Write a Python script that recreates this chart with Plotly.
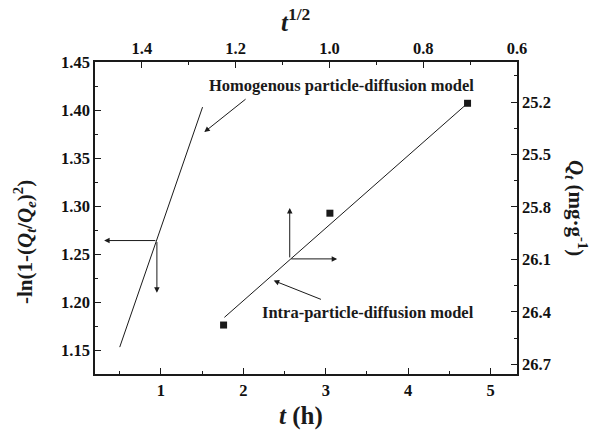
import plotly.graph_objects as go

# Data
intra_t = [1.76, 3.05, 4.72]
intra_y = [1.176, 1.2925, 1.407]
homo_fit_t = [0.50, 1.505]
homo_fit_y = [1.153, 1.403]
intra_fit_t = [1.77, 4.72]
intra_fit_y = [1.184, 1.407]

x_ticks = [1, 2, 3, 4, 5]
y_ticks = [1.15, 1.20, 1.25, 1.30, 1.35, 1.40, 1.45]
q_ticks = [25.2, 25.5, 25.8, 26.1, 26.4, 26.7]
sqrt_ticks = [1.4, 1.2, 1.0, 0.8, 0.6]

FONT = "Liberation Serif"
INK = "#1a1a1a"

fig = go.Figure()
fig.add_trace(go.Scatter(x=homo_fit_t, y=homo_fit_y, mode="lines",
                         line=dict(color=INK, width=1), showlegend=False))
fig.add_trace(go.Scatter(x=intra_fit_t, y=intra_fit_y, mode="lines",
                         line=dict(color=INK, width=1), showlegend=False))
fig.add_trace(go.Scatter(x=intra_t, y=intra_y, mode="markers",
                         marker=dict(symbol="square", size=7, color=INK),
                         showlegend=False))
# invisible traces to anchor secondary axes
fig.add_trace(go.Scatter(x=[None], y=[None], xaxis="x2", yaxis="y", showlegend=False, hoverinfo="skip"))
fig.add_trace(go.Scatter(x=[None], y=[None], xaxis="x", yaxis="y2", showlegend=False, hoverinfo="skip"))

tickfont = dict(family=FONT, size=16.5, color="#111111", weight="bold")
axis_common = dict(showline=True, linecolor=INK, linewidth=1.5, mirror=False,
                   ticks="inside", ticklen=6, tickwidth=1.2, tickcolor=INK,
                   showgrid=False, zeroline=False, tickfont=tickfont)

fig.update_layout(
    width=593, height=433,
    margin=dict(l=95, r=76, t=62, b=59),
    paper_bgcolor="white", plot_bgcolor="white",
    font=dict(family=FONT, color=INK),
    xaxis=dict(range=[0.2, 5.32], tickvals=x_ticks, ticktext=[f"<b>{v}</b>" for v in x_ticks],
               minor=dict(ticks="inside", ticklen=3.5, tickcolor=INK, dtick=0.5, tick0=0),
               **axis_common),
    yaxis=dict(range=[1.125, 1.45], tickvals=y_ticks, ticktext=[f"<b>{v:.2f}</b>" for v in y_ticks],
               minor=dict(ticks="inside", ticklen=3.5, tickcolor=INK, dtick=0.025, tick0=1.15),
               **axis_common),
    xaxis2=dict(range=[1.5, 0.6], overlaying="x", side="top", anchor="y",
                tickvals=sqrt_ticks, ticktext=[f"<b>{v:.1f}</b>" for v in sqrt_ticks],
                minor=dict(ticks="inside", ticklen=3.5, tickcolor=INK, dtick=0.1, tick0=0.6),
                **axis_common),
    yaxis2=dict(range=[26.756, 24.97], overlaying="y", side="right", anchor="x",
                tickvals=q_ticks, ticktext=[f"<b>{v:.1f}</b>" for v in q_ticks],
                minor=dict(ticks="inside", ticklen=3.5, tickcolor=INK, dtick=0.15, tick0=25.2),
                **axis_common),
)

def arrow(x, y, ax, ay):
    fig.add_annotation(x=x, y=y, ax=ax, ay=ay, xref="x", yref="y", axref="x", ayref="y",
                       text="", showarrow=True, arrowhead=2, arrowsize=1.1, arrowwidth=1,
                       arrowcolor=INK)

# homogeneous-model axis pointers
arrow(0.311, 1.264, 0.951, 1.264)
arrow(0.951, 1.2097, 0.951, 1.264)
# intra-particle axis pointers
arrow(2.5626, 1.2978, 2.5626, 1.2449)
arrow(3.138, 1.2449, 2.5626, 1.2449)
# label arrows
arrow(1.526, 1.377, 2.045, 1.4125)
arrow(2.368, 1.2223, 2.96, 1.2021)

lab = dict(family=FONT, size=16.5, color=INK, weight="bold")
fig.add_annotation(x=3.19, y=1.4255, xref="x", yref="y", text="Homogenous particle-diffusion model",
                   showarrow=False, font=lab, xanchor="center", yanchor="middle")
fig.add_annotation(x=3.513, y=1.1886, xref="x", yref="y", text="Intra-particle-diffusion model",
                   showarrow=False, font=lab, xanchor="center", yanchor="middle")

# axis titles
def px(xp):
    return (xp - 95) / (593 - 95 - 76)

def py(yp):
    return (433 - 59 - yp) / (433 - 62 - 59)

def title(x, y, text, size, angle=0):
    fig.add_annotation(x=px(x), y=py(y), xref="paper", yref="paper", textangle=angle,
                       text=text, showarrow=False, xanchor="center", yanchor="middle",
                       font=dict(family=FONT, size=size, color=INK, weight="bold"))

title(25, 242, "-ln(1-(<i>Q</i><sub><i>t</i></sub>/<i>Q</i><sub><i>e</i></sub>)<sup>2</sup>)", 21, -90)
title(577, 208, "<i>Q</i><sub><i>t</i></sub> (mg·g<sup>-1</sup>)", 21, 90)
title(295, 20, "<i>t</i><sup>1/2</sup>", 25)
title(301, 416, "<i>t</i> (h)", 25)

fig.write_html("out.html")
